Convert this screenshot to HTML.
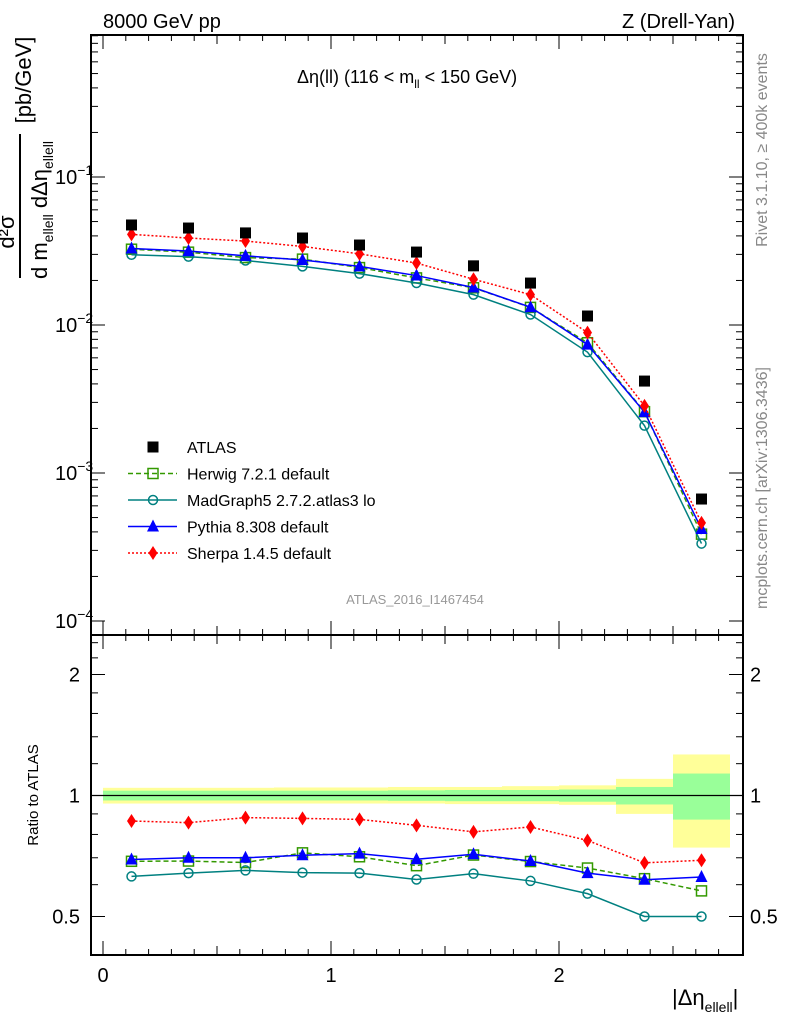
<!DOCTYPE html>
<html><head><meta charset="utf-8"><style>
body{margin:0;background:#fff}
svg{display:block;font-family:"Liberation Sans",sans-serif}
</style></head><body>
<svg id="c" width="786" height="1024" viewBox="0 0 786 1024"></svg>
<script>
const binEdges=[0,0.25,0.5,0.75,1,1.25,1.5,1.75,2,2.25,2.5,2.75];
const atlas=[0.0474,0.0452,0.0419,0.0387,0.0347,0.0311,0.0251,0.0192,0.0115,0.00418,0.000667];
const rHerwig=[0.686,0.687,0.681,0.720,0.704,0.669,0.711,0.685,0.660,0.621,0.579];
const rMadgraph=[0.629,0.641,0.651,0.643,0.641,0.618,0.639,0.613,0.570,0.50,0.50];
const rPythia=[0.693,0.700,0.700,0.710,0.717,0.694,0.714,0.687,0.641,0.617,0.627];
const rSherpa=[0.864,0.856,0.881,0.877,0.872,0.843,0.812,0.835,0.773,0.68,0.69];
const bandYLo=[0.955,0.955,0.955,0.955,0.955,0.955,0.952,0.952,0.948,0.90,0.742];
const bandYHi=[1.045,1.045,1.045,1.047,1.047,1.05,1.05,1.055,1.06,1.10,1.265];
const bandGLo=[0.972,0.972,0.972,0.972,0.972,0.97,0.968,0.968,0.965,0.95,0.871];
const bandGHi=[1.028,1.028,1.028,1.028,1.028,1.03,1.032,1.032,1.035,1.05,1.134];
const mainTicks=[0.1,0.01,0.001,0.0001];
const mainTickLabels=["10","10","10","10"];
const mainTickExp=["−1","−2","−3","−4"];
const ratioTicks=[0.5,1,2];
const xTicks=[0,1,2];

const NS="http://www.w3.org/2000/svg";
const svg=document.getElementById('c');
function el(tag,attrs,parent){const e=document.createElementNS(NS,tag);for(const k in attrs)e.setAttribute(k,attrs[k]);(parent||svg).appendChild(e);return e;}
const L=91,R=743,T=35,MB=635,RB=955;
const X=v=>103+v*228;
const Ym=v=>177-(Math.log10(v)+1)*148;
const Yr=v=>795.5-Math.log2(v)*121;
const centers=binEdges.slice(0,-1).map((e,i)=>(e+binEdges[i+1])/2);

const bands=el('g',{});


centers.forEach((c,i)=>{
  el('rect',{x:X(binEdges[i]),y:Yr(bandYHi[i]),width:X(binEdges[i+1])-X(binEdges[i]),height:Yr(bandYLo[i])-Yr(bandYHi[i]),fill:'#ffff99'},bands);
});
centers.forEach((c,i)=>{
  el('rect',{x:X(binEdges[i]),y:Yr(bandGHi[i]),width:X(binEdges[i+1])-X(binEdges[i]),height:Yr(bandGLo[i])-Yr(bandGHi[i]),fill:'#99ff99'},bands);
});
el('line',{x1:L,x2:R,y1:Yr(1),y2:Yr(1),stroke:'#000','stroke-width':1.3});

const f1=el('rect',{x:L,y:T,width:R-L,height:MB-T,fill:'none',stroke:'#000','stroke-width':2});

const f2=el('rect',{x:L,y:MB,width:R-L,height:RB-MB,fill:'none',stroke:'#000','stroke-width':2});


for(let k=0;k<=27;k++){const v=k/10;
  const big=k%10==0, mid=k%5==0;
  const len=big?14:(mid?9:6);
  [[T,1],[MB,-1],[MB,1],[RB,-1]].forEach(([y,d])=>el('line',{x1:X(v),x2:X(v),y1:y,y2:y+d*len,stroke:'#000'}));
}
xTicks.forEach(v=>{const t=el('text',{x:X(v),y:982,'font-size':20,'text-anchor':'middle'});t.textContent=v;
});
for(let d=-4;d<=-1;d++){for(let m=1;m<10;m++){const v=m*Math.pow(10,d);const y=Ym(v);if(y<T||y>MB)continue;const len=m==1?14:7;
  el('line',{x1:L,x2:L+len,y1:y,y2:y,stroke:'#000'});el('line',{x1:R,x2:R-len,y1:y,y2:y,stroke:'#000'});}}
for(let m=1;m<10;m++){const y=Ym(m);if(y>=T){el('line',{x1:L,x2:L+7,y1:y,y2:y,stroke:'#000'});el('line',{x1:R,x2:R-7,y1:y,y2:y,stroke:'#000'});}}
mainTicks.forEach((v,i)=>{const t=el('text',{x:55,y:Ym(v)+7,'font-size':20});t.textContent=mainTickLabels[i];

const s=el('tspan',{dy:-9,'font-size':14},t);s.textContent=mainTickExp[i];});
[0.5,0.6,0.7,0.8,0.9,1,1.2,1.4,1.6,1.8,2,2.2,2.4].forEach(v=>{const y=Yr(v);const big=ratioTicks.includes(v);const len=big?14:7;
  el('line',{x1:L,x2:L+len,y1:y,y2:y,stroke:'#000'});el('line',{x1:R,x2:R-len,y1:y,y2:y,stroke:'#000'});});
ratioTicks.forEach(v=>{const y=Yr(v)+7;
  const a=el('text',{x:80,y:y,'font-size':20,'text-anchor':'end'});a.textContent=v;
  const b=el('text',{x:750,y:y,'font-size':20});b.textContent=v;});

function marker(kind,x,y,col,g){
  if(kind=='sq')el('rect',{x:x-5,y:y-5,width:10,height:10,fill:'none',stroke:col,'stroke-width':1.5},g);
  if(kind=='circ')el('circle',{cx:x,cy:y,r:4.5,fill:'none',stroke:col,'stroke-width':1.5},g);
  if(kind=='tri')el('polygon',{points:`${x},${y-7} ${x-6},${y+5} ${x+6},${y+5}`,fill:col},g);
  if(kind=='dia')el('polygon',{points:`${x},${y-7} ${x-4.5},${y} ${x},${y+7} ${x+4.5},${y}`,fill:col},g);
  if(kind=='fsq')el('rect',{x:x-5.5,y:y-5.5,width:11,height:11,fill:col},g);
}
const series=[
 {name:'herwig',r:rHerwig,col:'#339900',dash:'5,3',m:'sq',w:1.5},
 {name:'madgraph',r:rMadgraph,col:'#008080',dash:'',m:'circ',w:1.5},
 {name:'pythia',r:rPythia,col:'#0000ff',dash:'',m:'tri',w:1.5},
 {name:'sherpa',r:rSherpa,col:'#ff0000',dash:'2,2',m:'dia',w:1.5}
];
series.forEach(s=>{
  const g=el('g',{});
  const pm=centers.map((c,i)=>X(c)+','+Ym(atlas[i]*s.r[i])).join(' ');
  el('polyline',{points:pm,fill:'none',stroke:s.col,'stroke-width':s.w,'stroke-dasharray':s.dash},g);
  centers.forEach((c,i)=>marker(s.m,X(c),Ym(atlas[i]*s.r[i]),s.col,g));
  const gr=el('g',{});
  const pr=centers.map((c,i)=>X(c)+','+Yr(s.r[i])).join(' ');
  el('polyline',{points:pr,fill:'none',stroke:s.col,'stroke-width':s.w,'stroke-dasharray':s.dash},gr);
  centers.forEach((c,i)=>marker(s.m,X(c),Yr(s.r[i]),s.col,gr));
});
const ga=el('g',{});
centers.forEach((c,i)=>marker('fsq',X(c),Ym(atlas[i]),'#000',ga));

const leg=[['fsq','#000','','ATLAS'],['sq','#339900','5,3','Herwig 7.2.1 default'],['circ','#008080','','MadGraph5 2.7.2.atlas3 lo'],['tri','#0000ff','','Pythia 8.308 default'],['dia','#ff0000','2,2','Sherpa 1.4.5 default']];
leg.forEach((l,i)=>{const y=447+i*26.5;const g=el('g',{});
  if(i>0)el('line',{x1:128,x2:177,y1:y,y2:y,stroke:l[1],'stroke-width':1.5,'stroke-dasharray':l[2]},g);
  marker(l[0],153,y,l[1],g);
  const t=el('text',{x:187,y:y+6,'font-size':16},g);t.textContent=l[3];});

function txt(x,y,s,attrs,name){const t=el('text',Object.assign({x:x,y:y},attrs));t.textContent=s;return t;}
txt(103,28,'8000 GeV pp',{'font-size':20},'energy-label');
txt(735,28,'Z (Drell-Yan)',{'font-size':20,'text-anchor':'end'},'process-label');
const tt=txt(297,83,'Δη(ll) (116 < m',{'font-size':18},'plot-title');
const sb=el('tspan',{dy:5,'font-size':12},tt);sb.textContent='ll';
const s2=el('tspan',{dy:-5},tt);s2.textContent=' < 150 GeV)';
txt(415,604,'ATLAS_2016_I1467454',{'font-size':13,fill:'#999','text-anchor':'middle'},'analysis-id');
txt(767,150,'Rivet 3.1.10, ≥ 400k events',{'font-size':16,fill:'#888','text-anchor':'middle',transform:'rotate(-90 767 150)'},'rivet-label');
txt(767,488,'mcplots.cern.ch [arXiv:1306.3436]',{'font-size':16,fill:'#888','text-anchor':'middle',transform:'rotate(-90 767 488)'},'mcplots-label');
txt(38,795,'Ratio to ATLAS',{'font-size':15,'text-anchor':'middle',transform:'rotate(-90 38 795)'},'ratio-axis-title');
const xt=txt(672,1005,'|Δη',{'font-size':22},'x-axis-title');
const xs=el('tspan',{dy:7,'font-size':14},xt);xs.textContent='ellell';
const xe=el('tspan',{dy:-7},xt);xe.textContent='|';
const yg=el('g',{transform:'rotate(-90)'});
el('line',{x1:-278,x2:-134,y1:20,y2:20,stroke:'#000','stroke-width':2},yg);
const a1=el('text',{x:-232,y:14,'font-size':22,'text-anchor':'middle'},yg);a1.textContent='d²σ';
const a2=el('text',{x:-210,y:47,'font-size':22,'text-anchor':'middle'},yg);a2.textContent='d m';
const a3=el('tspan',{dy:6,'font-size':14},a2);a3.textContent='ellell';
const a4=el('tspan',{dy:-6},a2);a4.textContent=' dΔη';
const a5=el('tspan',{dy:6,'font-size':14},a2);a5.textContent='ellell';
const a6=el('text',{x:-80,y:31,'font-size':22,'text-anchor':'middle'},yg);a6.textContent='[pb/GeV]';
</script>
</body></html>
